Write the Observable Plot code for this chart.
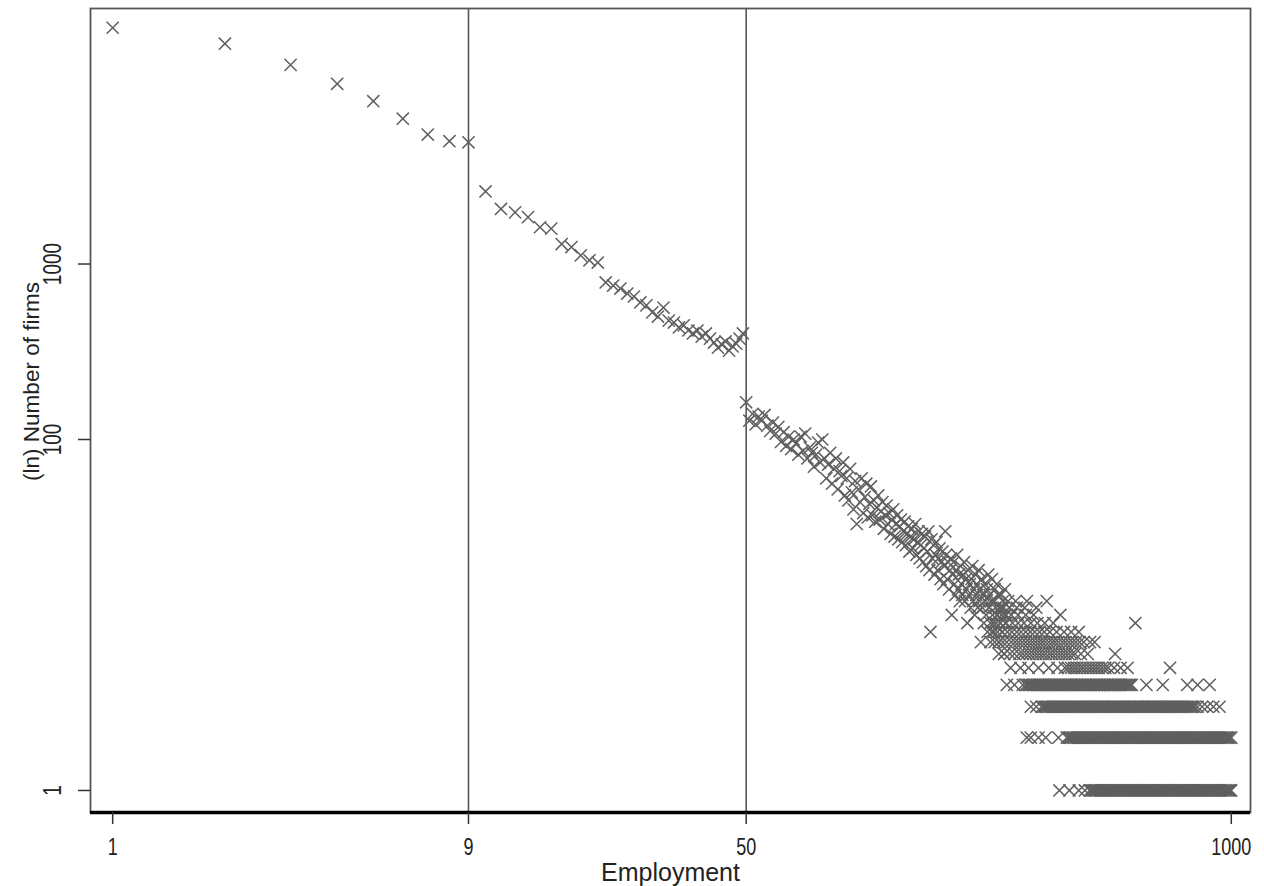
<!DOCTYPE html>
<html>
<head>
<meta charset="utf-8">
<script src="https://cdn.jsdelivr.net/npm/d3@7"></script>
<script src="https://cdn.jsdelivr.net/npm/@observablehq/plot@0.6"></script>
<style>
  body { margin: 0; background: #fff; }
  #chart svg { font-family: "Liberation Sans", Arial, sans-serif; }
</style>
</head>
<body>
<div id="chart"></div>
<script>
// ---- data ----
const xTitle = "Employment";
const yTitle = "(ln) Number of firms";
const xTicks = [1, 9, 50, 1000];
const yTicks = [1, 100, 1000];
const splitPoints = [9, 50];

// firm sizes 1..49, one point each
const smallEmp = [1,2,3,4,5,6,7,8,9,10,11,12,13,14,15,16,17,18,19,20,21,22,23,24,25,26,27,28,29,30,31,32,33,34,35,36,37,38,39,40,41,42,43,44,45,46,47,48,49];
const smallFirms = [22200,18000,13650,10640,8470,6730,5470,5010,4940,2590,2060,1970,1850,1620,1590,1300,1250,1120,1050,1020,785,754,725,679,653,604,581,530,502,565,476,464,435,447,418,402,418,386,402,376,357,334,348,362,321,339,352,376,402];

// firm sizes 50..249 (consecutive), number of firms
const cloudFirst = 50;
const cloudFirms = [
  163,128,140,122,135,128,138,120,112,125,
  108,118,97,110,92,104,88,100,95,82,
  104,86,108,78,90,84,70,82,96,74,
  100,78,60,72,84,56,68,78,52,66,
  62,74,48,60,45,68,50,40,58,33,
  52,44,60,38,47,56,36,43,54,37,
  45,34,41,48,35,39,44,31,37,42,
  33,38,29,35,40,28,33,37,27,32,
  35,26,30,34,25,29,32,23,28,31,
  24,27,33,22,26,30,21,25,29,20,
  24,28,19,23,30,18,8,27,21,25,
  17,22,26,18,21,24,16,20,23,15,
  19,30,22,16,20,14,18,21,10,17,
  20,15,13,18,22,14,17,12,19,15,
  13,17,20,12,16,14,9,18,13,15,
  11,16,19,12,14,10,17,13,15,11,
  18,12,14,7,16,11,13,9,15,12,
  10,14,8,17,11,13,9,12,16,10,
  12,8,14,11,9,15,10,13,7,11,
  9,13,10,8,12,11,6,14,9,10
];

// tail: firm sizes observed with a given small number of firms
const band1 = [346,368,390,405,417,421,425,429,433,437,441,445,450,454,458,462,467,471,476,480,485,489,494,498,503,508,513,517,522,527,532,537,542,547,553,558,563,568,574,579,585,590,596,601,607,612,618,624,630,636,642,648,654,660,666,672,679,685,692,698,705,711,718,725,732,739,746,753,760,767,774,781,789,796,804,811,819,827,835,842,850,858,866,874,883,891,900,908,917,925,934,943,952,961,970,979,988,994,999];
const band2 = [283,290,304,318,344,362,366,369,372,376,379,383,387,391,394,398,402,406,409,413,417,421,425,429,433,437,441,446,450,454,458,463,467,472,476,481,485,490,494,499,504,509,513,518,523,528,533,538,543,549,554,559,564,570,575,581,586,592,597,603,608,614,620,626,632,638,644,650,656,662,668,675,681,688,694,701,707,714,721,728,735,742,749,756,763,770,777,785,792,800,807,815,823,831,838,846,854,862,870,879,887,896,904,913,921,930,939,948,957,966,973,980,990,1000];
const band3 = [290,300,310,313,316,319,322,325,328,331,334,337,341,344,347,350,354,357,360,363,367,370,374,377,381,385,389,392,396,400,404,407,411,415,419,423,427,431,435,439,444,448,452,456,461,465,470,474,479,483,488,492,497,502,507,511,516,521,526,531,536,541,547,552,557,562,568,573,579,584,590,595,601,607,613,618,624,630,636,642,648,654,661,667,673,679,686,692,699,705,712,719,726,733,740,747,754,761,768,775,783,790,798,812,835,862,895,930];
const band4 = [250,262,276,281,284,287,289,292,295,298,301,304,307,310,313,316,319,322,325,328,331,334,337,341,344,347,350,354,357,361,364,368,371,375,378,382,385,389,393,397,401,405,409,413,417,421,425,429,433,437,441,446,450,455,459,464,468,473,477,482,486,491,496,501,506,511,516,521,526,531,536,541,592,655,762,812,875];
const band5 = [256,272,286,304,324,342,358,365,372,379,386,394,401,409,417,425,433,441,450,459,468,485,505,527,685];
const band6 = [238,246,255,262,270,276,282,288,294,300,306,312,318,325,331,338,345,352,359,366,374,381,395,412,488];
const band7 = [226,232,238,244,250,257,263,269,275,281,287,293,299,305,311,317,324,331,337,344,352,359,367,375,383,392,402,418,430];
const band8 = [228,236,243,251,258,266,273,281,289,297,306,315,326,340,356,372,390];
const band9 = [230,240,249,259,268,278,290,302,316,333,553];
const band10 = [235,247,257,268,281,295,348];
const band11 = [242,254,266,279,300];
const band12 = [252,264,283,320];
const bands = [band1,band2,band3,band4,band5,band6,band7,band8,band9,band10,band11,band12];

// ---- table for the library ----
const points = [];
smallEmp.forEach((e, i) => points.push({emp: e, firms: smallFirms[i]}));
cloudFirms.forEach((f, i) => points.push({emp: cloudFirst + i, firms: f}));
bands.forEach((list, k) => list.forEach(e => points.push({emp: e, firms: k + 1})));

const xDomain = [0.872, 1126];
const yDomain = [0.749, 28580];
const font = "'Liberation Sans', Arial, sans-serif";

const chart = Plot.plot({
  width: 1264,
  height: 886,
  marginLeft: 90,
  marginRight: 14,
  marginTop: 8,
  marginBottom: 74,
  style: {fontFamily: font, background: "#fff", color: "#222"},
  x: {type: "log", domain: xDomain},
  y: {type: "log", domain: yDomain},
  marks: [
    Plot.ruleX(splitPoints, {stroke: "#555", strokeWidth: 1.6}),
    Plot.dot(points, {x: "emp", y: "firms", symbol: "times", r: 5.6, stroke: "#5f5f5f", strokeWidth: 1.5}),
    Plot.frame({stroke: "#555", strokeWidth: 1.8}),
    Plot.ruleY([yDomain[0]], {stroke: "#000", strokeWidth: 3.5}),
    Plot.axisX(xTicks, {tickSize: 12, text: () => "", label: null, stroke: "#333", strokeWidth: 1.5}),
    Plot.axisY(yTicks, {tickSize: 12, text: () => "", label: null, stroke: "#333", strokeWidth: 1.5}),
    Plot.text(xTicks, {x: d => d, text: d => String(d), frameAnchor: "bottom", dy: 35, lineAnchor: "middle", textAnchor: "middle", fontSize: 18, fill: "#222"}),
    Plot.text(yTicks, {y: d => d, text: d => String(d), frameAnchor: "left", dx: -38, rotate: -90, lineAnchor: "middle", textAnchor: "middle", fontSize: 19, fill: "#222"}),
    Plot.text([xTitle], {frameAnchor: "bottom", dy: 68, lineAnchor: "bottom", textAnchor: "middle", fontSize: 25, fill: "#222"}),
    Plot.text([yTitle], {frameAnchor: "left", dx: -59, dy: -29, rotate: -90, lineAnchor: "middle", textAnchor: "middle", fontSize: 22.5, fill: "#222"})
  ]
});

// tick label glyphs in the reference are taller than Arial: stretch them across the text line
const tickLabelSet = new Set([...xTicks, ...yTicks].map(String));
chart.querySelectorAll("text").forEach(t => {
  if (!tickLabelSet.has(t.textContent.trim())) return;
  const tr = t.getAttribute("transform");
  if (tr) {
    t.setAttribute("transform", tr + " scale(1,1.35)");
  } else {
    t.style.transformBox = "fill-box";
    t.style.transformOrigin = "center";
    t.style.transform = "scaleY(1.35)";
  }
});

document.getElementById("chart").appendChild(chart);
</script>
</body>
</html>
